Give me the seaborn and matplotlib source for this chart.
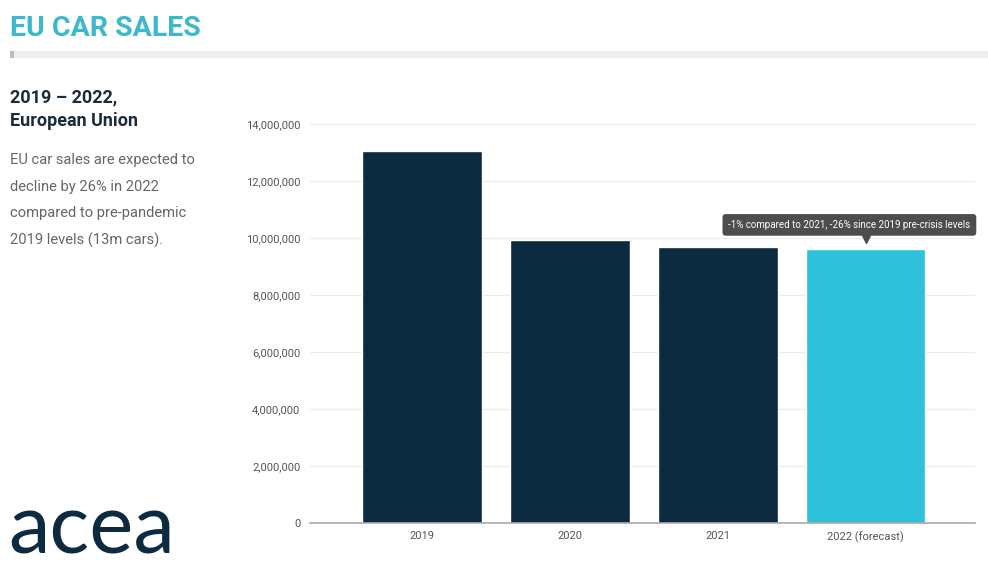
import matplotlib
matplotlib.use("Agg")
import matplotlib.pyplot as plt
import seaborn as sns
import pandas as pd
from matplotlib.patches import Rectangle
from matplotlib.ticker import FuncFormatter

years = ["2019", "2020", "2021", "2022 (forecast)"]
sales = [13050000, 9940000, 9700000, 9600000]
bar_colors = ["#0c2a40", "#0c2a40", "#0c2a40", "#2ec2da"]
yticks = [0, 2000000, 4000000, 6000000, 8000000, 10000000, 12000000, 14000000]
note = "-1% compared to 2021, -26% since 2019 pre-crisis levels"

df = pd.DataFrame({"year": years, "sales": sales})

sns.set_theme(style="white")
plt.rcParams['font.family'] = ['Roboto', 'DejaVu Sans']

fig = plt.figure(figsize=(9.88, 5.67), dpi=100)
ax = fig.add_axes([310/988, 1-523/567, (975-310)/988, (523-124)/567])

sns.barplot(data=df, x="year", y="sales", hue="year", palette=bar_colors,
            legend=False, width=0.81, saturation=1, ax=ax)

ax.set_xlim(-0.76, 3.74)
ax.set_ylim(0, 14000000)
ax.set_yticks(yticks)
ax.yaxis.set_major_formatter(FuncFormatter(lambda v, p: f"{int(v):,}"))
ax.grid(axis="y", color="#ebebeb", linewidth=0.8)
ax.set_axisbelow(True)
for s in ["top", "right", "left"]:
    ax.spines[s].set_visible(False)
ax.spines["bottom"].set_color("#a9a9a9")
ax.spines["bottom"].set_linewidth(1.2)
ax.set_xlabel("")
ax.set_ylabel("")
ax.tick_params(axis="y", length=0, labelsize=8, labelcolor="#555555", pad=7)
ax.tick_params(axis="x", length=0, labelsize=8, labelcolor="#555555", pad=6)

# tooltip above forecast bar
ax.text(2.89, 10460000, note, ha="center", va="center", fontsize=7,
        color="white",
        bbox=dict(boxstyle="round,pad=0.6,rounding_size=0.35",
                  fc="#4d4d4d", ec="none"))
ax.plot([3], [9960000], marker="v", color="#4d4d4d", markersize=5.5,
        linestyle="none", clip_on=False)

# title and header
fig.text(10/988, 1-28/567, "EU CAR SALES", fontsize=20.5, fontweight="bold",
         color="#3db8cf", va="center", ha="left")
fig.patches.append(Rectangle((10/988, 1-58/567), 978/988, 7/567,
                             transform=fig.transFigure, fc="#eeeeee", ec="none"))
fig.patches.append(Rectangle((10/988, 1-58/567), 4/988, 7/567,
                             transform=fig.transFigure, fc="#bdbdbd", ec="none"))
fig.text(10/988, 1-97/567, "2019 – 2022,", fontsize=13, fontweight="bold",
         color="#1c2b3a", va="center", ha="left")
fig.text(10/988, 1-121/567, "European Union", fontsize=13, fontweight="bold",
         color="#1c2b3a", va="center", ha="left")
body = ["EU car sales are expected to", "decline by 26% in 2022",
        "compared to pre-pandemic", "2019 levels (13m cars)."]
for i, line in enumerate(body):
    fig.text(10/988, 1-(160+26.7*i)/567, line, fontsize=10.6, color="#666666",
             va="center", ha="left")

# logo
fig.text(8/988, 1-553/567, "acea", fontsize=60, color="#0c2a40",
         va="baseline", ha="left", family=["Lato", "DejaVu Sans"])

fig.savefig("out.png", dpi=100)
